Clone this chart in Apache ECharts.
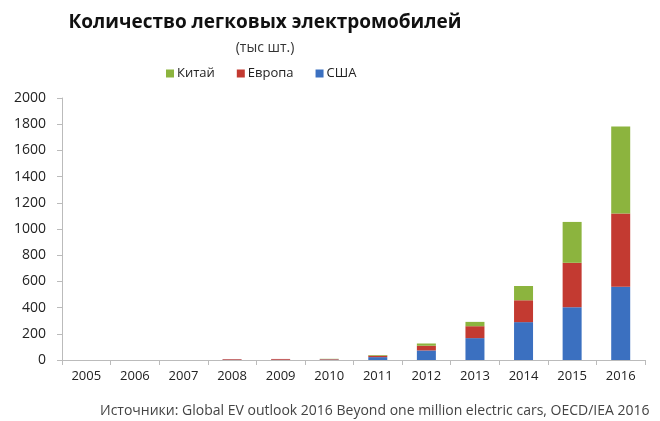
<!DOCTYPE html>
<html lang="ru">
<head>
<meta charset="UTF-8">
<title>Количество легковых электромобилей</title>
<style>
    html, body { margin: 0; padding: 0; background: #fff; }
    #chart { width: 660px; height: 421px; }
</style>
</head>
<body>
<div id="chart"></div>
<script src="https://cdn.jsdelivr.net/npm/echarts@6/dist/echarts.min.js"></script>
<script>
    // годы и значения, тыс шт.
    var years = ['2005', '2006', '2007', '2008', '2009', '2010', '2011', '2012', '2013', '2014', '2015', '2016'];
    var usa = [0, 0, 0, 2, 2, 3, 22, 73, 167, 289, 403, 560];
    var europe = [0, 0, 0, 5, 6, 4, 11, 36, 91, 167, 339, 558];
    var china = [0, 0, 0, 0, 0, 2, 5, 17, 33, 109, 312, 664];
    var yTicks = [0, 200, 400, 600, 800, 1000, 1200, 1400, 1600, 1800, 2000];

    var chart = echarts.init(document.getElementById('chart'));
    var font = 'Open Sans, Liberation Sans, sans-serif';

    chart.setOption({
        animation: false,
        title: [
            {
                text: 'Количество легковых электромобилей',
                left: 260, top: 8, textAlign: 'center',
                textStyle: { fontFamily: font, fontSize: 19, fontWeight: 'bold', color: '#111' }
            },
            {
                text: '(тыс шт.)',
                left: 260, top: 36, textAlign: 'center',
                textStyle: { fontFamily: font, fontSize: 14, fontWeight: 'normal', color: '#333' }
            },
            {
                text: 'Источники: Global EV outlook 2016 Beyond one million electric cars, OECD/IEA 2016',
                left: 95, top: 399,
                textStyle: { fontFamily: font, fontSize: 14, fontWeight: 'normal', color: '#444' }
            }
        ],
        legend: {
            data: ['Китай', 'Европа', 'США'],
            left: 161, top: 62,
            itemWidth: 8, itemHeight: 8, itemGap: 22,
            icon: 'rect',
            textStyle: { fontFamily: font, fontSize: 13, color: '#222', padding: [0, 0, 0, -2] }
        },
        grid: { left: 62, right: 15, top: 98, bottom: 61, containLabel: false },
        xAxis: {
            type: 'category',
            data: years,
            axisLine: { lineStyle: { color: '#bbb' } },
            axisTick: { show: true, length: 5, lineStyle: { color: '#bbb' } },
            axisLabel: { fontFamily: font, fontSize: 13, color: '#222', margin: 10 }
        },
        yAxis: {
            type: 'value',
            min: yTicks[0], max: yTicks[yTicks.length - 1], interval: 200,
            axisLine: { show: true, lineStyle: { color: '#bbb' } },
            axisTick: { show: true, length: 5, lineStyle: { color: '#bbb' } },
            splitLine: { show: false },
            axisLabel: {
                fontFamily: font, fontSize: 14, color: '#222', margin: 16,
                formatter: function (v) { return String(v); }
            }
        },
        series: [
            { name: 'США', type: 'bar', stack: 'ev', data: usa, barWidth: 19, itemStyle: { color: '#3b70c0' } },
            { name: 'Европа', type: 'bar', stack: 'ev', data: europe, barWidth: 19, itemStyle: { color: '#c33a31' } },
            { name: 'Китай', type: 'bar', stack: 'ev', data: china, barWidth: 19, itemStyle: { color: '#8cb43e' } }
        ]
    });
</script>
</body>
</html>
